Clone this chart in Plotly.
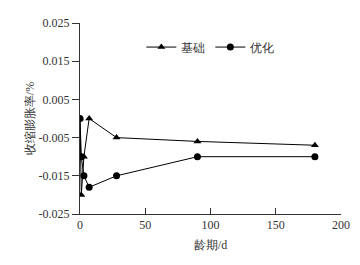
import plotly.graph_objects as go

days_base = [0, 1, 3, 7, 28, 90, 180]
rate_base = [0.0, -0.020, -0.010, 0.0, -0.005, -0.006, -0.007]
days_opt = [0, 1, 3, 7, 28, 90, 180]
rate_opt = [0.0, -0.010, -0.015, -0.018, -0.015, -0.010, -0.010]

ytick_vals = [0.025, 0.015, 0.005, -0.005, -0.015, -0.025]
ytick_text = ["0.025", "0.015", "0.005", "-0.005", "-0.015", "-0.025"]
xtick_vals = [0, 50, 100, 150, 200]

FONT = "Liberation Serif"
INK = "#333333"

fig = go.Figure()
fig.add_trace(go.Scatter(
    x=days_base, y=rate_base, name="基础", mode="lines+markers",
    line=dict(color="black", width=1),
    marker=dict(symbol="triangle-up", size=7, color="black"),
))
fig.add_trace(go.Scatter(
    x=days_opt, y=rate_opt, name="优化", mode="lines+markers",
    line=dict(color="black", width=1),
    marker=dict(symbol="circle", size=7, color="black"),
))

fig.update_layout(
    width=360, height=265,
    margin=dict(l=80, r=19, t=23, b=51),
    paper_bgcolor="white", plot_bgcolor="white",
    font=dict(family=FONT, size=12, color=INK),
    showlegend=True,
    legend=dict(
        orientation="h", x=0.235, y=0.874, xanchor="left", yanchor="middle",
        bgcolor="rgba(0,0,0,0)", font=dict(family=FONT, size=12, color=INK),
        itemwidth=30, tracegroupgap=0,
    ),
    xaxis=dict(
        range=[0, 200], tickvals=xtick_vals, ticks="inside", ticklen=6,
        tickcolor=INK, showline=True, linecolor=INK, linewidth=1,
        showgrid=False, zeroline=False, mirror=False, automargin=False,
        title=dict(text="龄期/d", font=dict(family=FONT, size=12, color=INK), standoff=9),
        tickfont=dict(family=FONT, size=12, color=INK),
    ),
    yaxis=dict(
        range=[-0.025, 0.025], tickvals=ytick_vals, ticktext=ytick_text,
        ticks="outside", ticklen=7, tickcolor=INK,
        showline=True, linecolor=INK, linewidth=1,
        showgrid=False, zeroline=False, mirror=False, automargin=False,
        title=dict(text="收缩膨胀率/%", font=dict(family=FONT, size=12, color=INK), standoff=1),
        tickfont=dict(family=FONT, size=12, color=INK),
    ),
)

fig.write_html(
    "out.html",
    config={"displayModeBar": False},
    post_script="document.body.style.margin='0';document.body.style.padding='0';",
)
